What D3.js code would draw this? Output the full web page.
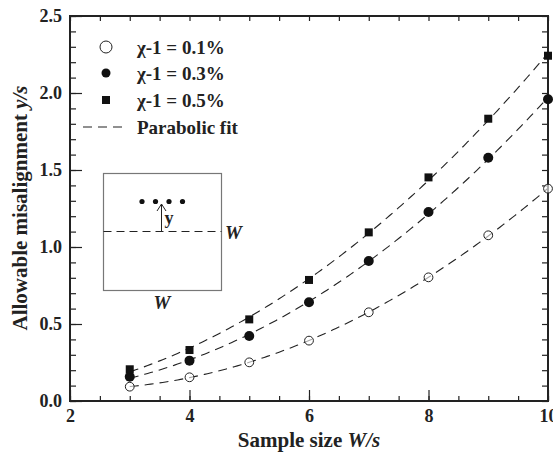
<!doctype html>
<html lang="en">
<head>
  <meta charset="UTF-8">
  <title>allowable misalignment</title>
  <style type="text/css">
    * { padding: 0; margin: 0; }
    body { background: #fff; }
    svg text { font-family: "Liberation Serif", "Times New Roman", serif; font-weight: bold; fill: #222; }
    .axis path, .axis line { stroke: #222; }
  </style>
  <script src="https://cdn.jsdelivr.net/npm/d3@7/dist/d3.min.js"></script>
</head>
<body>
  <svg width="553" height="453"></svg>
  <script>
    var sizes = [3, 4, 5, 6, 7, 8, 9, 10];
    var chi01 = [0.093, 0.154, 0.251, 0.392, 0.576, 0.803, 1.076, 1.379];
    var chi03 = [0.158, 0.262, 0.422, 0.641, 0.909, 1.227, 1.580, 1.959];
    var chi05 = [0.206, 0.331, 0.530, 0.786, 1.095, 1.452, 1.833, 2.242];
    var xTicks = [2, 4, 6, 8, 10];
    var yTicks = [0.0, 0.5, 1.0, 1.5, 2.0, 2.5];
    var legendLabels = ["χ-1 = 0.1%", "χ-1 = 0.3%", "χ-1 = 0.5%", "Parabolic fit"];

    var marge = { top: 16, bottom: 52, left: 70, right: 5 };
    var width = 553 - marge.left - marge.right;
    var height = 453 - marge.top - marge.bottom;

    var svg = d3.select("svg");
    var g = svg.append("g")
      .attr("transform", "translate(" + marge.left + "," + marge.top + ")");

    var xScale = d3.scaleLinear().domain([2, 10]).range([0, width]);
    var yScale = d3.scaleLinear().domain([0, 2.5]).range([height, 0]);

    // minor ticks first, then major ones with labels
    var xMinor = d3.range(2, 10.01, 0.5);
    var yMinor = d3.range(0, 2.501, 0.1);

    function tickAxis(axis, sel) {
      sel.call(axis);
      sel.select(".domain").remove();
      sel.selectAll("line").attr("stroke-width", 1.2);
    }

    tickAxis(d3.axisBottom(xScale).tickValues(xMinor).tickSize(-5).tickFormat(""),
      g.append("g").attr("class", "axis").attr("transform", "translate(0," + height + ")"));
    tickAxis(d3.axisTop(xScale).tickValues(xMinor).tickSize(-5).tickFormat(""),
      g.append("g").attr("class", "axis"));
    tickAxis(d3.axisLeft(yScale).tickValues(yMinor).tickSize(-6).tickFormat(""),
      g.append("g").attr("class", "axis"));
    tickAxis(d3.axisRight(yScale).tickValues(yMinor).tickSize(-6).tickFormat(""),
      g.append("g").attr("class", "axis").attr("transform", "translate(" + width + ",0)"));

    var xAxis = g.append("g").attr("class", "axis").attr("transform", "translate(0," + height + ")");
    tickAxis(d3.axisBottom(xScale).tickValues(xTicks).tickSize(-11).tickPadding(8).tickFormat(d3.format("d")), xAxis);
    var yAxis = g.append("g").attr("class", "axis");
    tickAxis(d3.axisLeft(yScale).tickValues(yTicks).tickSize(-12).tickPadding(8).tickFormat(d3.format(".1f")), yAxis);
    g.selectAll(".axis text")
      .style("font-family", "Liberation Serif, serif")
      .style("font-weight", "bold")
      .style("font-size", "18px")
      .attr("fill", "#222");

    g.append("rect")
      .attr("width", width).attr("height", height)
      .attr("fill", "none").attr("stroke", "#222").attr("stroke-width", 2);

    // parabolic least squares fit
    function fit(xs, ys) {
      var s = [0, 0, 0, 0, 0], t = [0, 0, 0];
      xs.forEach(function (x, i) {
        for (var k = 0; k < 5; k++) s[k] += Math.pow(x, k);
        for (var k = 0; k < 3; k++) t[k] += ys[i] * Math.pow(x, k);
      });
      var m = [[s[0], s[1], s[2], t[0]], [s[1], s[2], s[3], t[1]], [s[2], s[3], s[4], t[2]]];
      for (var i = 0; i < 3; i++) {
        for (var j = i + 1; j < 3; j++) {
          var f = m[j][i] / m[i][i];
          for (var k = i; k < 4; k++) m[j][k] -= f * m[i][k];
        }
      }
      var c = [0, 0, 0];
      for (var i = 2; i >= 0; i--) {
        var v = m[i][3];
        for (var k = i + 1; k < 3; k++) v -= m[i][k] * c[k];
        c[i] = v / m[i][i];
      }
      return function (x) { return c[0] + c[1] * x + c[2] * x * x; };
    }

    var line = d3.line()
      .x(function (d) { return xScale(d[0]); })
      .y(function (d) { return yScale(d[1]); });

    [chi01, chi03, chi05].forEach(function (ys) {
      var f = fit(sizes, ys);
      var pts = d3.range(3, 10.001, 0.05).map(function (x) { return [x, f(x)]; });
      g.append("path")
        .attr("d", line(pts))
        .attr("fill", "none").attr("stroke", "#222").attr("stroke-width", 1.1)
        .attr("stroke-dasharray", "9,6");
    });

    g.selectAll(".p01").data(chi01).enter().append("circle")
      .attr("cx", function (d, i) { return xScale(sizes[i]); })
      .attr("cy", function (d) { return yScale(d); })
      .attr("r", 4.4).attr("fill", "#fff").attr("fill-opacity", 0.6)
      .attr("stroke", "#222").attr("stroke-width", 1);
    g.selectAll(".p03").data(chi03).enter().append("circle")
      .attr("cx", function (d, i) { return xScale(sizes[i]); })
      .attr("cy", function (d) { return yScale(d); })
      .attr("r", 5).attr("fill", "#111");
    g.selectAll(".p05").data(chi05).enter().append("rect")
      .attr("x", function (d, i) { return xScale(sizes[i]) - 4; })
      .attr("y", function (d) { return yScale(d) - 4; })
      .attr("width", 8).attr("height", 8).attr("fill", "#111");

    // legend
    var legend = svg.append("g");
    var ly = [47, 73, 100, 127];
    legend.append("circle").attr("cx", 106).attr("cy", ly[0]).attr("r", 6)
      .attr("fill", "#fff").attr("stroke", "#222").attr("stroke-width", 1);
    legend.append("circle").attr("cx", 106).attr("cy", ly[1]).attr("r", 4.5).attr("fill", "#111");
    legend.append("rect").attr("x", 102).attr("y", ly[2] - 4).attr("width", 8).attr("height", 8).attr("fill", "#111");
    legend.append("line").attr("x1", 83).attr("x2", 128).attr("y1", ly[3]).attr("y2", ly[3])
      .attr("stroke", "#222").attr("stroke-width", 1.1).attr("stroke-dasharray", "9,6");
    legend.selectAll("text").data(legendLabels).enter().append("text")
      .attr("x", 137).attr("y", function (d, i) { return ly[i] + 6.5; })
      .style("font-size", "19px")
      .text(function (d) { return d; });

    // inset sketch
    var inset = svg.append("g");
    inset.append("rect").attr("x", 103.5).attr("y", 173.5).attr("width", 118).attr("height", 117)
      .attr("fill", "none").attr("stroke", "#777").attr("stroke-width", 1.2);
    inset.append("line").attr("x1", 103.5).attr("x2", 221.5).attr("y1", 231.5).attr("y2", 231.5)
      .attr("stroke", "#222").attr("stroke-width", 1).attr("stroke-dasharray", "8,5");
    [142, 155.5, 169, 182.5].forEach(function (x) {
      inset.append("circle").attr("cx", x).attr("cy", 201.5).attr("r", 2.6).attr("fill", "#111");
    });
    inset.append("line").attr("x1", 161.5).attr("x2", 161.5).attr("y1", 231.5).attr("y2", 204)
      .attr("stroke", "#222").attr("stroke-width", 1);
    inset.append("path").attr("d", "M157,211 L161.5,204 L166,211")
      .attr("fill", "none").attr("stroke", "#222").attr("stroke-width", 1);
    inset.append("text").attr("x", 164.5).attr("y", 224).style("font-size", "18px").text("y");
    inset.append("text").attr("x", 225).attr("y", 239).style("font-size", "19px")
      .style("font-style", "italic").text("W");
    inset.append("text").attr("x", 162).attr("y", 309).attr("text-anchor", "middle")
      .style("font-size", "19px").style("font-style", "italic").text("W");

    // axis titles
    var xt = svg.append("text").attr("x", 309).attr("y", 447).attr("text-anchor", "middle")
      .style("font-size", "21px");
    xt.append("tspan").text("Sample size ");
    xt.append("tspan").style("font-style", "italic").text("W/s");

    var yt = svg.append("text").attr("transform", "translate(27,208) rotate(-90)")
      .attr("text-anchor", "middle").style("font-size", "21px");
    yt.append("tspan").text("Allowable misalignment ");
    yt.append("tspan").style("font-style", "italic").text("y/s");
  </script>
</body>
</html>
